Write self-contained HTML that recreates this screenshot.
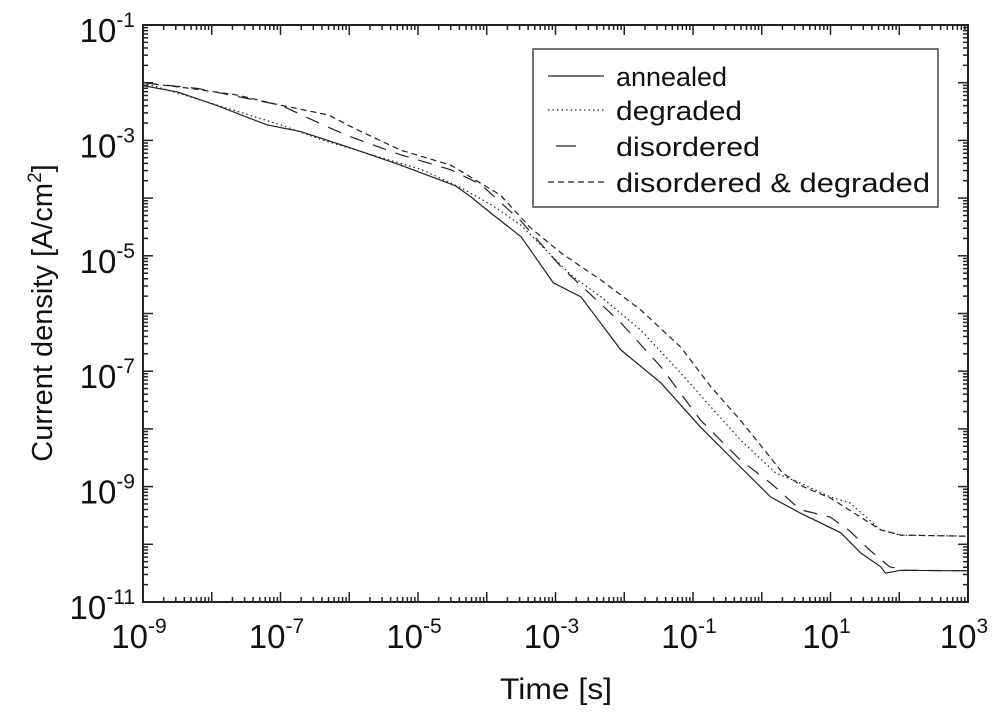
<!DOCTYPE html>
<html><head><meta charset="utf-8"><style>
body{margin:0;background:#fff;}
svg text{font-family:"Liberation Sans",Arial,sans-serif;fill:#111;}
</style></head><body>
<svg id="chart" width="1000" height="714" xmlns="http://www.w3.org/2000/svg">
<g id="ticks"></g>
<g id="series"></g>
<rect x="143" y="25" width="825" height="577" fill="none" stroke="#222" stroke-width="2"/>
<g>
<rect x="533" y="49" width="405" height="158" fill="#fff" stroke="#444" stroke-width="1.5"/>
<line x1="548" y1="76" x2="604" y2="76" stroke="#222" stroke-width="1.2"/>
<text x="616" y="86" font-size="27" textLength="111" lengthAdjust="spacingAndGlyphs">annealed</text>
<line x1="548" y1="110" x2="604" y2="110" stroke="#222" stroke-width="1.2" stroke-dasharray="1.5,3"/>
<text x="616" y="120" font-size="27" textLength="126" lengthAdjust="spacingAndGlyphs">degraded</text>
<line x1="548" y1="146" x2="604" y2="146" stroke="#222" stroke-width="1.2" stroke-dasharray="0,8,20,30"/>
<text x="616" y="156" font-size="27" textLength="144" lengthAdjust="spacingAndGlyphs">disordered</text>
<line x1="548" y1="182" x2="604" y2="182" stroke="#222" stroke-width="1.2" stroke-dasharray="6,4"/>
<text x="616" y="192" font-size="27" textLength="314" lengthAdjust="spacingAndGlyphs">disordered &amp; degraded</text>
</g>
<text x="500" y="699" font-size="30" textLength="112" lengthAdjust="spacingAndGlyphs">Time [s]</text>
<text transform="translate(52,313) rotate(-90)" font-size="29" text-anchor="middle">Current density [A/cm<tspan font-size="19" dy="-11">2</tspan><tspan dy="11">]</tspan></text>
</svg>
<script>
const xDecades=[-9,-7,-5,-3,-1,1,3];
const yDecades=[-1,-3,-5,-7,-9,-11];
const annealedT=[-9,-8.5,-7.94,-7.2,-6.7,-5.98,-5.25,-4.67,-4.45,-4.23,-3.94,-3.5,-3.03,-2.63,-2.05,-1.47,-0.89,-0.31,0.13,0.56,1.15,1.44,1.73,1.8,2.02,3];
const annealedJ=[-2.05,-2.16,-2.39,-2.73,-2.85,-3.13,-3.43,-3.69,-3.79,-3.98,-4.26,-4.67,-5.47,-5.71,-6.63,-7.2,-7.97,-8.66,-9.18,-9.46,-9.8,-10.15,-10.39,-10.5,-10.45,-10.46];
const degradedT=[-9,-8.3,-7.7,-7.0,-6.4,-5.67,-4.94,-4.36,-3.93,-3.5,-2.78,-2.34,-1.76,-1.18,-0.74,-0.31,0.2,0.56,1.0,1.28,1.73,2.02,3];
const degradedJ=[-2.0,-2.25,-2.47,-2.73,-2.99,-3.25,-3.51,-3.83,-4.12,-4.47,-5.33,-5.71,-6.29,-7.03,-7.62,-8.19,-8.76,-8.94,-9.18,-9.28,-9.75,-9.84,-9.86];
const disorderedT=[-9,-8.2,-7.0,-6.6,-6.27,-5.93,-5.25,-4.52,-4.08,-3.5,-2.92,-2.05,-1.47,-0.89,-0.31,0.13,0.56,1.0,1.28,1.57,1.86,2.1,3];
const disorderedJ=[-2.0,-2.1,-2.39,-2.61,-2.79,-2.96,-3.25,-3.51,-3.77,-4.4,-5.19,-6.16,-6.92,-7.85,-8.54,-8.94,-9.4,-9.53,-9.77,-10.1,-10.39,-10.45,-10.46];
const ddT=[-9,-8.37,-7.65,-7.0,-6.3,-5.93,-5.25,-4.52,-3.8,-3.36,-2.92,-2.34,-1.76,-1.18,-0.74,-0.31,0,0.3,0.6,1.0,1.73,2.02,3];
const ddJ=[-2.0,-2.09,-2.21,-2.39,-2.56,-2.79,-3.17,-3.43,-3.95,-4.52,-4.95,-5.42,-5.94,-6.58,-7.27,-7.85,-8.31,-8.76,-9.0,-9.2,-9.75,-9.84,-9.86];
const X0=143,X1=968,Y0=25,Y1=602;
const sx=v=>X0+(v+9)/12*(X1-X0);
const sy=v=>Y0+(-1-v)/10*(Y1-Y0);
const NS='http://www.w3.org/2000/svg';
const tg=document.getElementById('ticks'), sg=document.getElementById('series'), svg=document.getElementById('chart');
function ln(x1,y1,x2,y2){const l=document.createElementNS(NS,'line');l.setAttribute('x1',x1);l.setAttribute('y1',y1);l.setAttribute('x2',x2);l.setAttribute('y2',y2);l.setAttribute('stroke','#222');l.setAttribute('stroke-width','1.5');


tg.appendChild(l);}
for(let d=-9;d<3;d++){for(let m=1;m<10;m++){const x=sx(d+Math.log10(m));const L=m===1?10:5;ln(x,Y1,x,Y1-L);ln(x,Y0,x,Y0+L);}}
for(let d=-11;d<-1;d++){for(let m=1;m<10;m++){const y=sy(d+Math.log10(m));const L=m===1?10:5;ln(X0,y,X0+L,y);ln(X1,y,X1-L,y);}}
function lab(x,y,e,anchor,name){const t=document.createElementNS(NS,'text');t.setAttribute('x',x);t.setAttribute('y',y);t.setAttribute('font-size','33');t.setAttribute('text-anchor',anchor);


t.innerHTML='10<tspan font-size="21" dy="-15">'+e+'</tspan>';svg.appendChild(t);}
xDecades.forEach(d=>lab(sx(d)-4,648,d,'middle','x-tick-label'));
yDecades.forEach(d=>lab(135,sy(d)+17,d,'end','y-tick-label'));
function series(T,J,dash,name){const p=document.createElementNS(NS,'path');p.setAttribute('d',T.map((t,i)=>(i?'L':'M')+sx(t).toFixed(1)+','+sy(J[i]).toFixed(1)).join(''));p.setAttribute('fill','none');p.setAttribute('stroke','#222');p.setAttribute('stroke-width','1.2');if(dash)p.setAttribute('stroke-dasharray',dash);


sg.appendChild(p);}
series(annealedT,annealedJ,null,'annealed-line');
series(degradedT,degradedJ,'1.5,3','degraded-line');
series(disorderedT,disorderedJ,'14,10','disordered-line');
series(ddT,ddJ,'6,4','disordered-degraded-line');
</script>
</body></html>
